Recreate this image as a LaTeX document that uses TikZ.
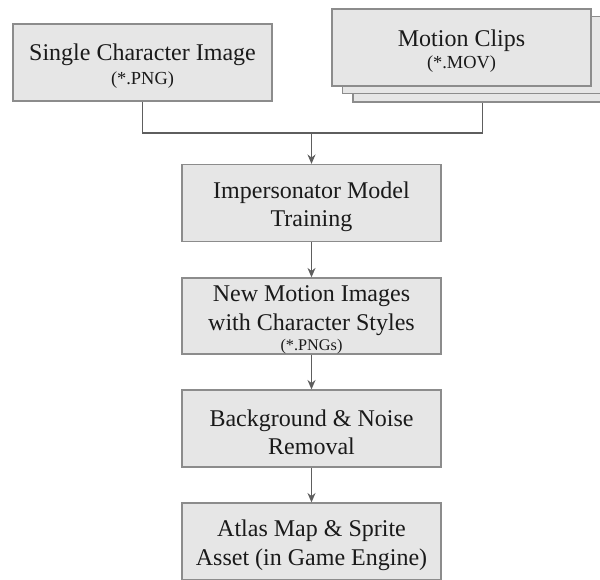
\documentclass[tikz,border=0pt]{standalone}
\usepackage{fontspec}
\setmainfont{Liberation Serif}[Ligatures=TeX]
\newfontfamily\boxfont{Liberation Serif}
\usetikzlibrary{arrows.meta}
\definecolor{boxfill}{HTML}{E6E6E6}
\definecolor{boxline}{HTML}{8C8C8C}
\definecolor{wire}{HTML}{5E5E5E}
\definecolor{ink}{HTML}{1A1A1A}
\tikzset{
  stagebox/.style={draw=boxline, line width=1pt, fill=boxfill, text=ink,
    minimum width=194.25pt, minimum height=57.75pt, inner sep=0pt,
    align=center, font=\boxfont\fontsize{18}{21.5}\selectfont},
  wireline/.style={draw=wire, line width=0.8pt},
  flow/.style={wireline, -{Stealth[length=7pt,width=6pt]}}
}
% extra room above the first line drops each label a little
\newcommand{\topstrut}{\rule{0pt}{18pt}}
\newcommand{\smalltxt}[1]{{\fontsize{13.8}{16}\selectfont #1}}
\begin{document}
\begin{tikzpicture}[x=0.75pt,y=-0.75pt]
  \useasboundingbox (0,0) rectangle (600,579);
  \clip (0,0) rectangle (600,579);
  \fill[white] (0,0) rectangle (600,579);

  % input: single image
  \node[stagebox] (single) at (142.5,62.5)
    {\topstrut Single Character Image\\[-3.5pt]\smalltxt{(*.PNG)}};

  % input: stack of motion clips
  \node[stagebox] (clipC) at (482.5,63.5) {};
  \node[stagebox] (clipB) at (472,55) {};
  \node[stagebox] (clipA) at (461.5,47.5)
    {\topstrut Motion Clips\\[-5pt]\smalltxt{(*.MOV)}};

  % pipeline stages
  \node[stagebox] (train) at (311.5,203)
    {\topstrut Impersonator Model\\Training};
  \node[stagebox, minimum height=57pt] (gen) at (311.5,316)
    {\topstrut New Motion Images\\with Character Styles\\[-6.5pt]{\fontsize{12.2}{14}\selectfont (*.PNGs)}};
  \node[stagebox] (clean) at (311.5,428.5)
    {\topstrut Background \& Noise\\Removal};
  \node[stagebox] (atlas) at (311.5,541.5)
    {\topstrut Atlas Map \& Sprite\\Asset (in Game Engine)};

  % connectors
  \coordinate (join) at (311.5,133);
  \draw[wireline] (single.south) |- (join) -| (clipC.south);
  \draw[flow] (join) -- (train.north);
  \draw[flow] (train.south) -- (gen.north);
  \draw[flow] (gen.south) -- (clean.north);
  \draw[flow] (clean.south) -- (atlas.north);
\end{tikzpicture}
\end{document}
